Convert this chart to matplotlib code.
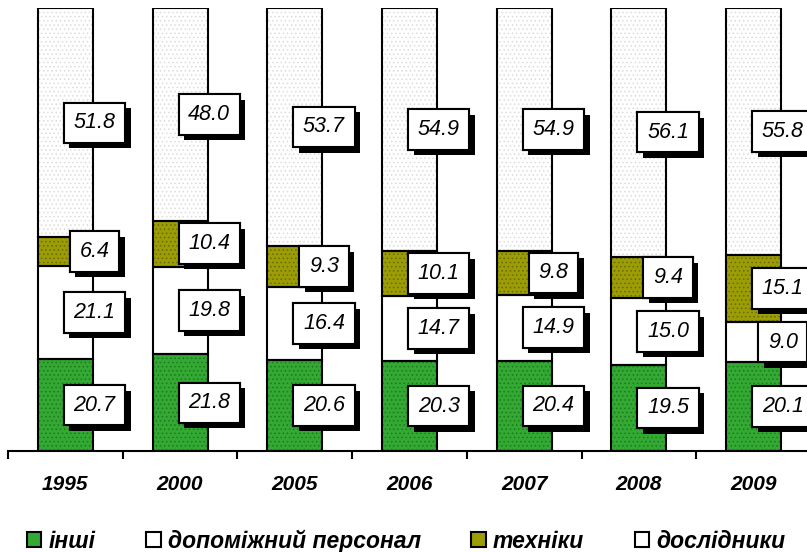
import matplotlib
matplotlib.use("Agg")
import matplotlib.pyplot as plt
import matplotlib.patheffects as pe
from matplotlib.patches import Patch
import numpy as np

years = ["1995", "2000", "2005", "2006", "2007", "2008", "2009"]
inshi = [20.7, 21.8, 20.6, 20.3, 20.4, 19.5, 20.1]
dopomizhnyi = [21.1, 19.8, 16.4, 14.7, 14.9, 15.0, 9.0]
tekhniky = [6.4, 10.4, 9.3, 10.1, 9.8, 9.4, 15.1]
doslidnyky = [51.8, 48.0, 53.7, 54.9, 54.9, 56.1, 55.8]
series_names = ["інші", "допоміжний персонал", "техніки", "дослідники"]

series = [inshi, dopomizhnyi, tekhniky, doslidnyky]
faces = ["#33a833", "#ffffff", "#9c9c06", "#ffffff"]
hatchcols = ["#1d7a1d", "#ffffff", "#6a6a00", "#dcdcdc"]

plt.rcParams['font.family'] = ['Liberation Sans', 'DejaVu Sans']
plt.rcParams['hatch.linewidth'] = 0.6

fig = plt.figure(figsize=(8.07, 5.52), dpi=100)
ax = fig.add_axes([8/807, 101/552, 803/807, 443/552])

x = np.arange(len(years))
width = 0.48
bottom = np.zeros(len(years))
for vals, fc, hc in zip(series, faces, hatchcols):
    vals = np.array(vals)
    ax.bar(x, vals, width, bottom=bottom, color=fc, edgecolor=hc,
           hatch='....', linewidth=0, zorder=2)
    ax.bar(x, vals, width, bottom=bottom, fill=False, edgecolor='black',
           linewidth=1.5, zorder=3)
    for xi, b, v in zip(x, bottom, vals):
        ax.annotate(f"{v:.1f}", xy=(xi, b + v / 2), xytext=(21, 0),
                    textcoords='offset points', ha='center', va='center',
                    fontsize=15.5, fontstyle='italic', zorder=5,
                    bbox=dict(boxstyle='square,pad=0.45', fc='white', ec='black', lw=1.5,
                              path_effects=[pe.withSimplePatchShadow(offset=(4, -4),
                                                                     shadow_rgbFace='black',
                                                                     alpha=1.0),
                                            pe.Normal()]))
    bottom = bottom + vals

ax.set_xlim(-0.5, len(years) - 0.5)
ax.set_ylim(0, 100)
for s in ['left', 'right', 'top']:
    ax.spines[s].set_visible(False)
ax.spines['bottom'].set_linewidth(1.5)
ax.set_yticks([])
ax.set_xticks(x)
ax.set_xticklabels(years, fontsize=15, fontweight='bold', fontstyle='italic')
ax.set_xticks(np.arange(len(years) + 1) - 0.5, minor=True)
ax.tick_params(axis='x', which='major', length=0, pad=17)
ax.tick_params(axis='x', which='minor', length=6, width=1.5, direction='out')

handles = [Patch(facecolor=fc, edgecolor='black', linewidth=1.5) for fc in faces]
leg = fig.legend(handles, series_names, loc='center', bbox_to_anchor=(406/807, 1 - 541/552),
                 ncol=4, frameon=False, handlelength=0.65, handleheight=0.65,
                 handletextpad=0.3, columnspacing=2.2,
                 prop=dict(family=['Liberation Sans', 'DejaVu Sans'], size=16.5,
                           weight='bold', style='italic'))

fig.savefig("out.png", dpi=100)
